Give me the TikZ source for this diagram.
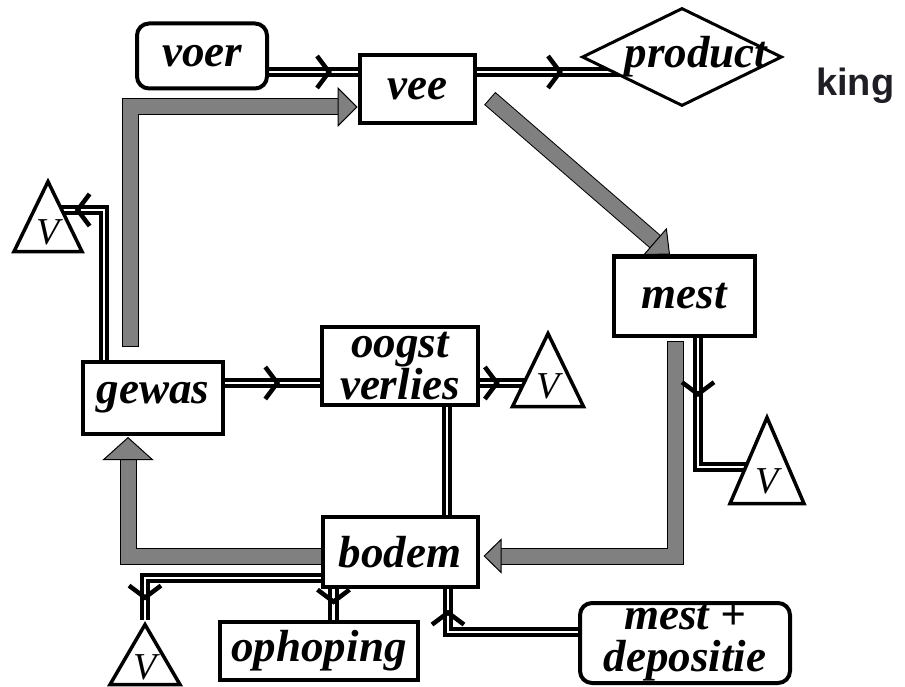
\documentclass[tikz,border=0pt]{standalone}
\usepackage{fontspec}
\setmainfont{Liberation Serif}
\newfontfamily\kingfont{Liberation Sans}
\usetikzlibrary{shapes.geometric,arrows.meta,decorations.markings,backgrounds,calc}
\definecolor{flowgrey}{RGB}{128,128,128}
\definecolor{kinggrey}{RGB}{30,30,36}
\newcommand\hand{\fontsize{45}{42}\selectfont\bfseries\itshape}
\tikzset{
  box/.style={draw, line width=4pt, fill=white, inner sep=0pt, align=center, font=\hand},
  source/.style={box, rounded corners=12pt},
  sink/.style={draw, line width=3pt, fill=white, diamond, inner sep=0pt},
  loss/.style={draw, line width=3.5pt, fill=white, isosceles triangle, isosceles triangle stretches,
    shape border rotate=90, inner sep=0pt, anchor=apex, font=\fontsize{38}{38}\selectfont\itshape},
  flow/.style={draw, double, line width=4pt, double distance=2.5pt},
  tick/.style={postaction={decorate}, decoration={markings,
    mark=at position #1 with {\arrow[line width=4.5pt]{Straight Barb[length=12pt,width=32pt]}}}},
  greyflow/.style 2 args={draw=flowgrey, line width=15pt, line join=miter,
    -{Triangle[length=#1,width=#2,line width=1pt,color=black,fill=flowgrey]},
    preaction={draw=black, line width=17pt, arrows=-, shorten >=#1-4pt, shorten <=-1pt}}
}
\begin{document}
\begin{tikzpicture}[x=1pt,y=-1pt]
\useasboundingbox (0,0) rectangle (905,687);
% knopen
\node[source, minimum width=130pt, minimum height=65pt] (voer) at (202,56) {voer};
\node[box, minimum width=115pt, minimum height=68pt] (vee) at (417,89) {vee};
\node[sink, minimum width=200pt, minimum height=98pt,
  label={[font=\hand, xshift=14pt]center:product}] (product) at (682,57) {};
\node[box, minimum width=141pt, minimum height=79pt] (mest) at (684,296) {mest};
\node[box, minimum width=140pt, minimum height=72pt] (gewas) at (153,398) {gewas};
\node[box, minimum width=156pt, minimum height=78pt] (oogst) at (400,366) {oogst\\verlies};
\node[box, minimum width=155pt, minimum height=70pt] (bodem) at (400,552) {bodem};
\node[box, minimum width=198pt, minimum height=58pt] (ophoping) at (319,651) {ophoping};
\node[source, minimum width=210pt, minimum height=80pt] (mestdep) at (685,643) {mest +\\depositie};
% verliezen
\node[loss, minimum width=68pt, minimum height=70pt] (vL) at (48,177) {V};
\node[loss, minimum width=71pt, minimum height=73pt] (vO) at (548,329) {V};
\node[loss, minimum width=74pt, minimum height=86pt] (vM) at (767,413) {V};
\node[loss, minimum width=70pt, minimum height=60pt] (vB) at (145,620) {V};
\node[font=\kingfont\bfseries\fontsize{38}{38}\selectfont, text=kinggrey, anchor=west, inner sep=0pt] (king) at (816,86) {king};
% aansluitpunten
\coordinate (voerout) at ($(voer.east)+(0,16)$);
\coordinate (veeout) at ($(vee.east)+(0,-17)$);
\coordinate (gewasout) at ($(gewas.east)+(0,-15)$);
\coordinate (oogstout) at ($(oogst.east)+(0,17)$);
\coordinate (oogstdown) at ($(oogst.south)+(47,0)$);
\coordinate (bodemdown) at ($(bodem.south west)+(13,0)$);
\begin{scope}[on background layer]
% grijze stromen
\draw[greyflow={20pt}{40pt}] ($(gewas.north)+(-23,-14)$) |- ($(vee.west)+(0,18)$);
\draw[greyflow={20pt}{36pt}] ($(vee.east)+(14,10)$) -- ($(mest.north)+(-14,0)$);
\draw[greyflow={18pt}{35pt}] ($(mest.south)+(-9,4)$) |- ($(bodem.east)+(4,4)$);
\draw[greyflow={23pt}{51pt}] ($(bodem.west)+(0,4)$) -| ($(gewas.south)+(-25,1)$);
% zwarte stromen
\draw[flow, tick=0.71] (voerout) -- (voerout -| vee.west);
\draw[flow, tick=0.42] (veeout) -- (veeout -| product.center);
\draw[flow, tick=0.87] ($(gewas.north west)+(23,0)$) |- ($(vL.apex)+(0,33)$);
\draw[flow, tick=0.58] (gewasout) -- (gewasout -| oogst.west);
\draw[flow, tick=0.29] (oogstout) -- (oogstout -| vO.apex);
\draw[flow] (oogstdown) -- (oogstdown |- bodem.north);
\draw[flow, tick=0.30] ($(mest.south)+(14,0)$) |- ($(vM.apex)+(0,54)$);
\draw[flow, tick=0.91] ($(bodem.west)+(0,26)$) -| (vB.apex);
\draw[flow, tick=0.5] (bodemdown) -- (bodemdown |- ophoping.north);
\draw[flow, tick=0.88] ($(mestdep.west)+(0,-11)$) -| ($(bodem.south)+(48,0)$);
\end{scope}
\end{tikzpicture}
\end{document}
